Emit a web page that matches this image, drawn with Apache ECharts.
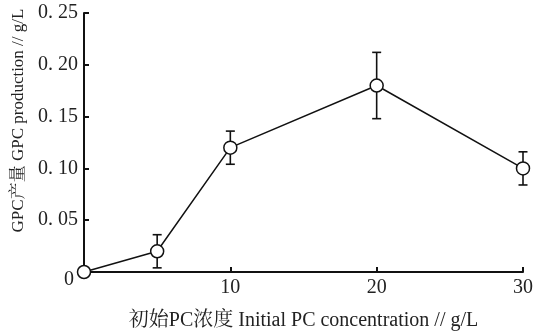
<!DOCTYPE html>
<html><head><meta charset="utf-8">
<script src="https://cdn.jsdelivr.net/npm/echarts@6/dist/echarts.min.js"></script>
<style>html,body{margin:0;padding:0;background:#fff}#c{width:536px;height:336px}</style>
</head><body><div id="c"></div>
<script>
const concentrations = [0, 5, 10, 20, 30];
const production = [0, 0.020, 0.120, 0.180, 0.100];
const errors = [0, 0.016, 0.016, 0.032, 0.016];
const xTicks = [0, 10, 20, 30];
const yTicks = [0, 0.05, 0.10, 0.15, 0.20, 0.25];
const xTitle = '初始PC浓度 Initial PC concentration // g/L';
const yTitle = 'GPC产量 GPC production // g/L';

const fontFam = '"Liberation Serif","Noto Serif CJK SC","Noto Sans CJK SC",serif';
const chart = echarts.init(document.getElementById('c'));
const lineData = concentrations.map((x, i) => [x, production[i]]);
const errData = concentrations.map((x, i) => [x, production[i], errors[i]]);

chart.setOption({
  animation: false,
  grid: {left: 84, right: 11, top: 13, bottom: 63, containLabel: false},
  xAxis: {
    type: 'value', min: xTicks[0], max: xTicks[xTicks.length-1], interval: 10,
    name: xTitle, nameLocation: 'middle', nameGap: 39,
    nameTextStyle: {fontFamily: fontFam, fontSize: 20, color: '#222'},
    axisLine: {lineStyle: {color: '#111', width: 2}},
    axisTick: {inside: true, length: 5, lineStyle: {color: '#111', width: 2}},
    axisLabel: {fontFamily: fontFam, fontSize: 20, color: '#222', margin: 6,
      formatter: v => v === 0 ? '' : String(v)},
    splitLine: {show: false}
  },
  yAxis: {
    type: 'value', min: yTicks[0], max: yTicks[yTicks.length-1], interval: 0.05,
    name: yTitle, nameLocation: 'middle', nameGap: 56, nameRotate: 90,
    nameTextStyle: {fontFamily: fontFam, fontSize: 17, color: '#222', padding: [0, 0, 0, 44]},
    axisLine: {lineStyle: {color: '#111', width: 2}},
    axisTick: {inside: true, length: 5, lineStyle: {color: '#111', width: 2}},
    axisLabel: {fontFamily: fontFam, fontSize: 20, color: '#222', margin: 6,
      formatter: v => v === 0 ? '{z|0}' : v.toFixed(2).replace('.', '. '),
      rich: {z: {fontFamily: fontFam, fontSize: 20, color: '#222', padding: [16, 4, 0, 0]}}},
    splitLine: {show: false}
  },
  series: [
    {
      type: 'custom', z: 1,
      renderItem: function (params, api) {
        const x = api.value(0), y = api.value(1), e = api.value(2);
        if (!e) return;
        const top = api.coord([x, y + e]);
        const bot = api.coord([x, y - e]);
        const hw = 4.5;
        const st = {stroke: '#111', lineWidth: 1.6};
        return {type: 'group', children: [
          {type: 'line', shape: {x1: top[0], y1: top[1], x2: bot[0], y2: bot[1]}, style: st},
          {type: 'line', shape: {x1: top[0]-hw, y1: top[1], x2: top[0]+hw, y2: top[1]}, style: st},
          {type: 'line', shape: {x1: bot[0]-hw, y1: bot[1], x2: bot[0]+hw, y2: bot[1]}, style: st}
        ]};
      },
      data: errData
    },
    {
      type: 'line', z: 3, data: lineData,
      symbol: 'circle', symbolSize: 13, showAllSymbol: true,
      lineStyle: {color: '#111', width: 1.5},
      itemStyle: {color: '#fff', borderColor: '#111', borderWidth: 1.5},
      clip: false
    }
  ]
});
</script></body></html>
